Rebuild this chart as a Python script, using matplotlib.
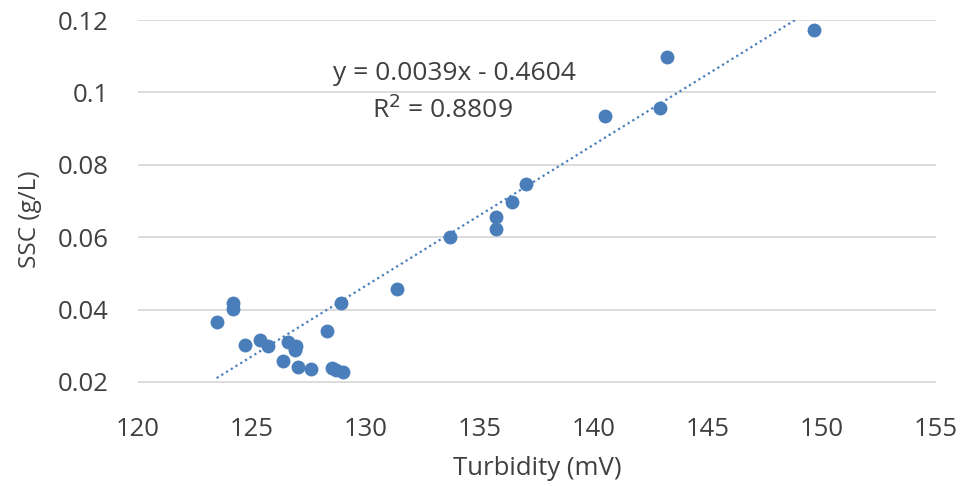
import matplotlib.pyplot as plt
import numpy as np

# turbidity sensor calibration data
turbidity = [149.65, 143.2, 142.9, 140.5, 137.0, 136.4, 135.7, 135.7, 133.7,
             131.35, 128.9, 124.15, 124.15, 123.45, 128.3, 124.7, 125.35, 125.7,
             126.6, 126.95, 126.9, 126.35, 127.0, 127.6, 128.5, 128.7, 129.0]
ssc = [0.1172, 0.1097, 0.0956, 0.0935, 0.0746, 0.0698, 0.0657, 0.0623, 0.0600,
       0.0456, 0.0417, 0.0419, 0.0401, 0.0365, 0.0342, 0.0301, 0.0316, 0.0300,
       0.0311, 0.0300, 0.0288, 0.0259, 0.0242, 0.0235, 0.0238, 0.0233, 0.0226]
slope = 0.0039
intercept = -0.4604
r2 = 0.8809
x_ticks = [120, 125, 130, 135, 140, 145, 150, 155]
y_ticks = [0.02, 0.04, 0.06, 0.08, 0.1, 0.12]
y_tick_labels = ['0.02', '0.04', '0.06', '0.08', '0.1', '0.12']

plt.rcParams['font.family'] = ['Open Sans', 'DejaVu Sans']
text_color = '#404040'
blue = '#4A7EBB'

fig = plt.figure(figsize=(9.66, 4.86), dpi=100)
ax = fig.add_axes([138 / 966, 1 - 400 / 486, (936 - 138) / 966, (400 - 20) / 486])

ax.scatter(turbidity, ssc, s=100, color=blue, zorder=3, linewidths=0)

xs = np.array([min(turbidity), max(turbidity)])
ax.plot(xs, slope * xs + intercept, color=blue, linestyle=(0, (1, 1.5)),
        linewidth=1.6, zorder=2)

ax.set_xlim(120, 155)
ax.set_ylim(0.015, 0.12)
ax.set_xticks(x_ticks)
ax.set_yticks(y_ticks)
ax.set_yticklabels(y_tick_labels)
ax.tick_params(length=0, labelsize=18.5, colors=text_color)
ax.tick_params(axis='y', pad=21)
ax.tick_params(axis='x', pad=12)

ax.grid(axis='y', color='#D9D9D9', linewidth=1.3)
ax.set_axisbelow(True)
for side in ['top', 'right', 'bottom', 'left']:
    ax.spines[side].set_visible(False)

ax.set_xlabel('Turbidity (mV)', fontsize=18.5, color=text_color, labelpad=10)
ax.set_ylabel('SSC (g/L)', fontsize=17.5, color=text_color)
ax.yaxis.set_label_coords(-96 / 798, 0.475)

ax.text(454 / 966, 1 - 73 / 486, 'y = 0.0039x - 0.4604', transform=fig.transFigure,
        ha='center', va='center', fontsize=19, color=text_color)
ax.text(442 / 966, 1 - 110 / 486, 'R$^2$ = %.4f' % r2, transform=fig.transFigure,
        ha='center', va='center', fontsize=19, color=text_color)

fig.savefig('out.png', dpi=100)
